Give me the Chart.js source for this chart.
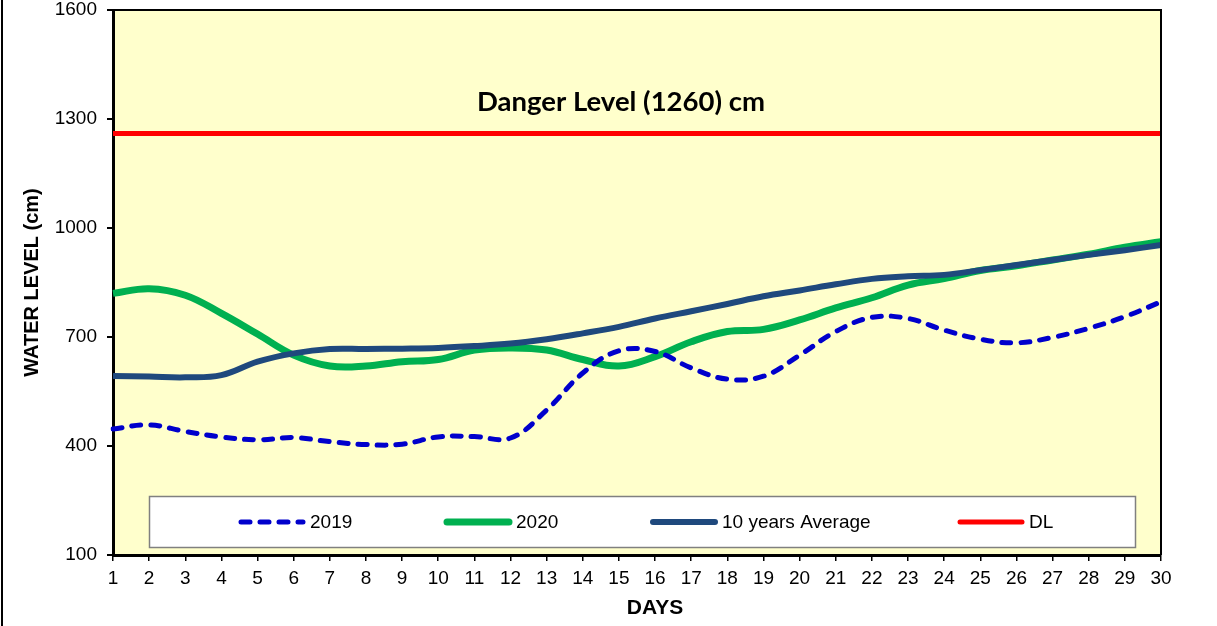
<!DOCTYPE html>
<html>
<head>
<meta charset="utf-8">
<script src="https://cdn.jsdelivr.net/npm/chart.js@4.4.1/dist/chart.umd.min.js"></script>
<style>
  html, body { margin: 0; padding: 0; background: #fff; }
  #wrap { position: relative; width: 1217px; height: 626px; }
  #frame { position: absolute; left: 1px; top: 0; width: 2px; height: 626px; background: #000; }
  canvas { position: absolute; left: 0; top: 0; }
</style>
</head>
<body>
<div id="wrap">
  <canvas id="c" width="1217" height="626"></canvas>
  <div id="frame"></div>
</div>
<script>
// ---- data ----
const days = ['1','2','3','4','5','6','7','8','9','10','11','12','13','14','15',
              '16','17','18','19','20','21','22','23','24','25','26','27','28','29','30'];
const wl2019 = [447, 458, 440, 425, 417, 423, 412, 404, 405, 425, 426, 422, 499, 601, 662,
                660, 615, 584, 592, 650, 715, 754, 751, 719, 694, 684, 699, 724, 756, 797];
const wl2020 = [820, 833, 815, 765, 708, 650, 620, 620, 632, 638, 664, 670, 664, 638, 620,
                646, 687, 715, 721, 747, 780, 808, 843, 861, 883, 896, 912, 928, 947, 962];
const avg10  = [593, 591, 589, 595, 632, 655, 667, 667, 668, 670, 675, 682, 694, 710, 728,
                751, 771, 791, 812, 828, 845, 860, 867, 871, 884, 898, 912, 926, 939, 953];
const dangerLevel = [1260, 1260, 1260, 1260, 1260, 1260, 1260, 1260, 1260, 1260, 1260, 1260, 1260, 1260, 1260,
                     1260, 1260, 1260, 1260, 1260, 1260, 1260, 1260, 1260, 1260, 1260, 1260, 1260, 1260, 1260];
const seriesLabels = ['2019', '2020', '10 years Average', 'DL'];
const yMin = 100, yMax = 1600, yStep = 300;
const annotationText = 'Danger Level (1260) cm';
const annotationValue = 1260;
const yTitle = 'WATER LEVEL (cm)';
const xTitle = 'DAYS';

const FONT = "'Liberation Sans', Arial, sans-serif";

const bgPlugin = {
  id: 'bg',
  beforeDraw(chart) {
    const {ctx, chartArea: a} = chart;
    ctx.save();
    ctx.fillStyle = '#FFFFCC';
    ctx.fillRect(a.left, a.top, a.right - a.left, a.bottom - a.top);
    ctx.restore();
  },
  afterDraw(chart) {
    const {ctx, chartArea: a} = chart;
    ctx.save();
    // top & right frame of plot area
    ctx.strokeStyle = '#000';
    ctx.lineWidth = 2;
    ctx.beginPath();
    ctx.moveTo(a.left, a.top);
    ctx.lineTo(a.right, a.top);
    ctx.lineTo(a.right, a.bottom);
    ctx.stroke();

    // annotation text
    const yPix = chart.scales.y.getPixelForValue(annotationValue);
    ctx.fillStyle = '#000';
    ctx.font = "bold 27.5px Lato, 'Open Sans', sans-serif";
    ctx.textAlign = 'center';
    ctx.textBaseline = 'alphabetic';
    ctx.fillText(annotationText, 621, yPix - 23);

    // x axis title
    ctx.font = 'bold 21px ' + FONT;
    ctx.textBaseline = 'middle';
    ctx.fillText(xTitle, 655, 608);

    // legend box
    const lx = 149.5, ly = 496.5, lw = 986, lh = 51;
    ctx.fillStyle = '#fff';
    ctx.fillRect(lx, ly, lw, lh);
    ctx.strokeStyle = '#808080';
    ctx.lineWidth = 1.5;
    ctx.strokeRect(lx, ly, lw, lh);
    const itemX = [241, 447, 653, 960];
    const legendOrder = [0, 1, 2, 3];
    const cy = 522;
    ctx.font = '19px ' + FONT;
    ctx.textAlign = 'left';
    ctx.textBaseline = 'middle';
    legendOrder.forEach((di, i) => {
      const ds = chart.data.datasets[di];
      ctx.save();
      ctx.strokeStyle = ds.borderColor;
      ctx.lineWidth = ds.borderWidth;
      ctx.lineCap = 'round';
      ctx.setLineDash(ds.borderDash || []);
      ctx.beginPath();
      ctx.moveTo(itemX[i], cy);
      ctx.lineTo(itemX[i] + 62, cy);
      ctx.stroke();
      ctx.restore();
      ctx.fillStyle = '#000';
      ctx.fillText(ds.label, itemX[i] + 69, cy + 1);
    });
    ctx.restore();
  }
};

new Chart(document.getElementById('c'), {
  type: 'line',
  data: {
    labels: days,
    datasets: [
      { label: seriesLabels[0], data: wl2019, borderColor: '#0000CC', borderWidth: 5,
        borderDash: [9, 10], borderCapStyle: 'round', order: 0 },
      { label: seriesLabels[1], data: wl2020, borderColor: '#00B050', borderWidth: 7, order: 2 },
      { label: seriesLabels[2], data: avg10, borderColor: '#1F497D', borderWidth: 6, order: 1 },
      { label: seriesLabels[3], data: dangerLevel, borderColor: '#FF0000', borderWidth: 5, order: 3 }
    ]
  },
  options: {
    responsive: false,
    animation: false,
    layout: { padding: { left: 0, top: 10, right: 56, bottom: 0 } },
    elements: { point: { radius: 0, hoverRadius: 0 }, line: { tension: 0.4, fill: false } },
    plugins: { legend: { display: false }, tooltip: { enabled: false } },
    scales: {
      x: {
        offset: false,
        afterFit(s) { s.height = 71; s.paddingRight = 0; s.paddingLeft = 0; },
        grid: { drawOnChartArea: false, drawTicks: true, tickLength: 6, color: '#000', lineWidth: 1.5 },
        border: { display: true, color: '#000', width: 3 },
        ticks: { color: '#000', font: { family: FONT, size: 19 }, padding: 6, maxRotation: 0, autoSkip: false },
        title: { display: false }
      },
      y: {
        min: yMin, max: yMax,
        afterFit(s) { s.width = 113; s.paddingTop = 0; s.paddingBottom = 0; },
        grid: { drawOnChartArea: false, drawTicks: true, tickLength: 6, color: '#000', lineWidth: 2 },
        border: { display: true, color: '#000', width: 3 },
        ticks: { stepSize: yStep, color: '#000', font: { family: FONT, size: 19 }, padding: 10,
                 callback: (v) => String(v) },
        title: { display: true, text: yTitle, color: '#000',
                 font: { family: FONT, size: 20, weight: 'bold' }, padding: { top: 20, bottom: 0 } }
      }
    }
  },
  plugins: [bgPlugin]
});
</script>
</body>
</html>
